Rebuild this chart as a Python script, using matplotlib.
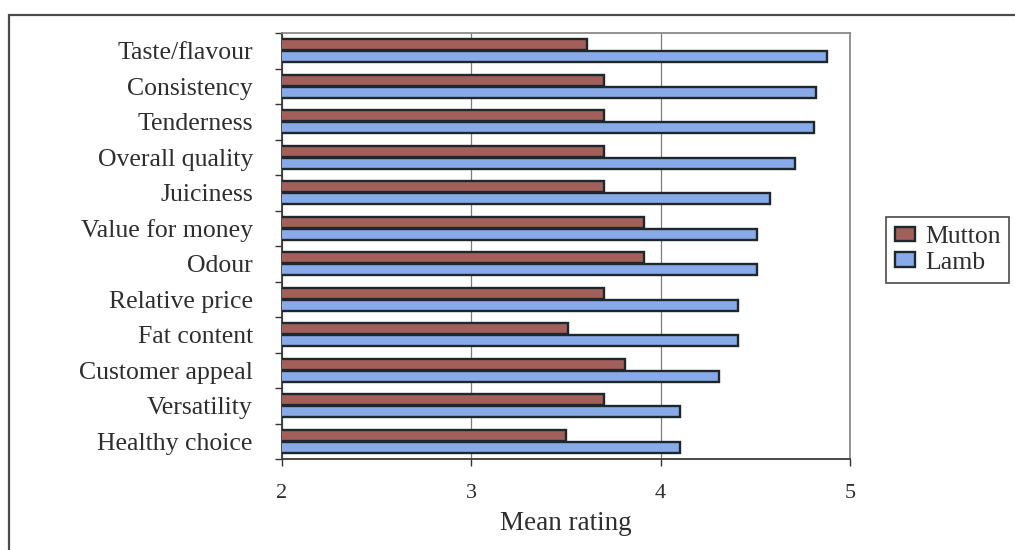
import numpy as np
import matplotlib
matplotlib.use("Agg")
import matplotlib.pyplot as plt
from matplotlib.patches import Rectangle

plt.rcParams['font.family'] = ['Liberation Serif', 'DejaVu Serif']

# Consumer ratings of lamb and mutton attributes
attributes = ["Taste/flavour", "Consistency", "Tenderness", "Overall quality",
              "Juiciness", "Value for money", "Odour", "Relative price",
              "Fat content", "Customer appeal", "Versatility", "Healthy choice"]
mutton = [3.61, 3.70, 3.70, 3.70, 3.70, 3.91, 3.91, 3.70, 3.51, 3.81, 3.70, 3.50]
lamb = [4.88, 4.82, 4.81, 4.71, 4.58, 4.51, 4.51, 4.41, 4.41, 4.31, 4.10, 4.10]
x_ticks = [2, 3, 4, 5]
series_names = ["Mutton", "Lamb"]

W, H = 1015, 550
fig = plt.figure(figsize=(W / 100, H / 100), dpi=100)
fig.patch.set_facecolor("white")

ax = fig.add_axes([282 / W, 1 - 459 / H, 568 / W, 426 / H])

text_col = "#2e2e2e"
edge_col = "#1e272c"
mutton_col = "#a3605a"
lamb_col = "#88aae8"

pos = np.arange(len(attributes))
bar_h = 0.31
ax.barh(pos - 0.165, mutton, height=bar_h, color=mutton_col,
        edgecolor=edge_col, linewidth=1.7, label=series_names[0], zorder=3)
ax.barh(pos + 0.165, lamb, height=bar_h, color=lamb_col,
        edgecolor=edge_col, linewidth=1.7, label=series_names[1], zorder=3)

ax.set_xlim(2, 5)
ax.set_ylim(len(attributes) - 0.5, -0.5)

ax.set_xticks(x_ticks)
ax.set_xticklabels([str(t) for t in x_ticks])
ax.grid(axis="x", color="#7d7d7d", linewidth=0.9)
ax.set_axisbelow(True)

ax.set_yticks(pos)
ax.set_yticklabels(attributes)
ax.set_yticks(np.arange(len(attributes) + 1) - 0.5, minor=True)
ax.tick_params(axis="y", which="major", length=0, pad=21, labelsize=18.5,
               labelcolor=text_col)
ax.tick_params(axis="y", which="minor", length=5, width=1.0, color="#333333",
               direction="out")
ax.tick_params(axis="x", length=5, width=1.0, color="#333333", direction="out",
               pad=13, labelsize=16, labelcolor=text_col)

for side in ("left", "bottom"):
    ax.spines[side].set_color("#3a3a3a")
    ax.spines[side].set_linewidth(1.3)
for side in ("top", "right"):
    ax.spines[side].set_color("#8a8a8a")
    ax.spines[side].set_linewidth(1.3)

ax.set_xlabel("Mean rating", fontsize=19.5, color=text_col, labelpad=6)

leg = fig.legend(loc="upper left", bbox_to_anchor=(886 / W, 1 - 217 / H),
                 borderaxespad=0, fancybox=False, framealpha=1,
                 edgecolor="#4a4a4a", fontsize=18.5, handlelength=0.76,
                 handleheight=0.5, handletextpad=0.4, borderpad=0.35,
                 labelspacing=0.15)
leg.get_frame().set_linewidth(1.2)
for t in leg.get_texts():
    t.set_color(text_col)

# outer border around the whole chart
fig.add_artist(Rectangle((9 / W, -0.2), 1.5, (1 - 15 / H) + 0.2,
                         transform=fig.transFigure, fill=False,
                         edgecolor="#4a4a4a", linewidth=1.6))

fig.savefig("out.png", dpi=100, facecolor="white")
